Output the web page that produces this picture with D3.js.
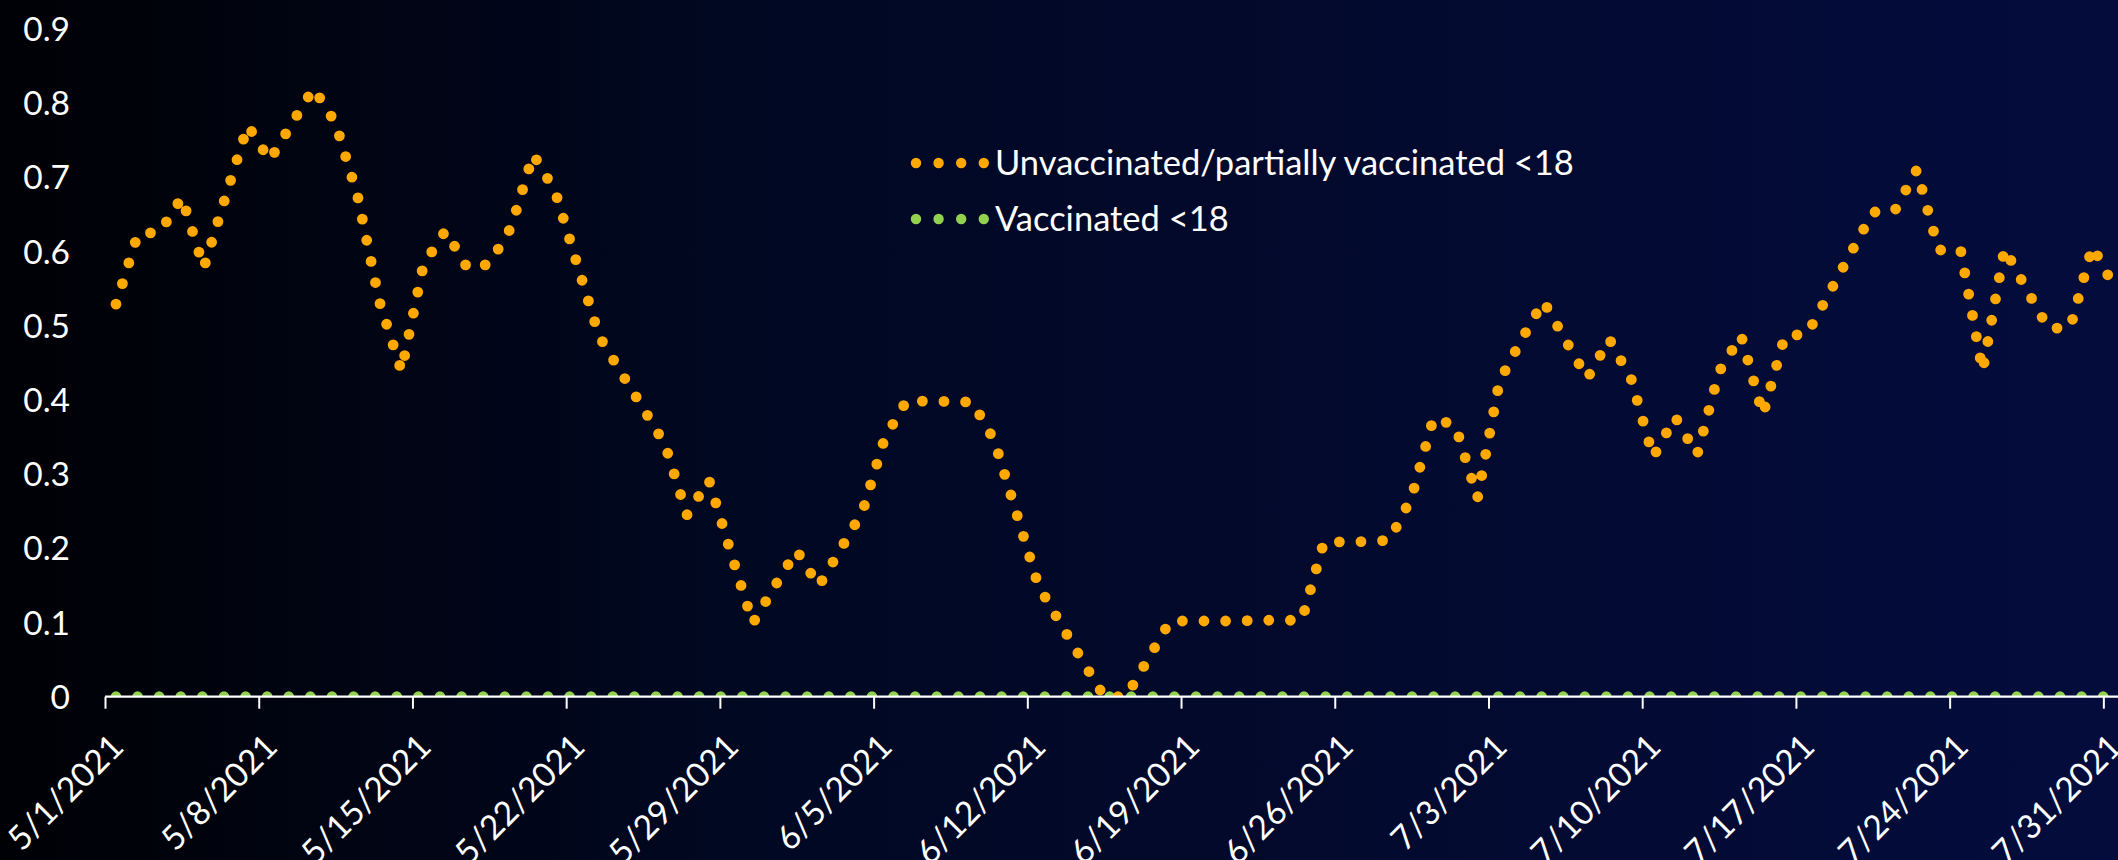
<!DOCTYPE html>
<html>
<head>
<meta charset="utf-8">
<script src="https://cdn.jsdelivr.net/npm/d3@7"></script>
<style>
  html, body { margin: 0; padding: 0; background: #000; }
  svg { display: block; }
  text { font-family: Lato, "Open Sans", sans-serif; fill: #ffffff; }
</style>
</head>
<body>
<svg id="chart" width="2118" height="860"></svg>
<script>
// daily values, 5/1/2021 .. 7/31/2021
const startDate = "5/1/2021";
const unvaccinated = [
  0.529, 0.624, 0.626, 0.673, 0.578, 0.675, 0.770, 0.723, 0.772, 0.820,
  0.773, 0.675, 0.532, 0.439, 0.582, 0.628, 0.578, 0.583, 0.633, 0.731,
  0.681, 0.583, 0.486, 0.437, 0.389, 0.340, 0.245, 0.292, 0.194, 0.099,
  0.149, 0.197, 0.149, 0.199, 0.250, 0.348, 0.399, 0.398, 0.398, 0.397,
  0.345, 0.248, 0.150, 0.099, 0.049, 0.000, 0.000, 0.051, 0.102, 0.102,
  0.102, 0.102, 0.103, 0.103, 0.103, 0.208, 0.209, 0.209, 0.211, 0.269,
  0.376, 0.365, 0.268, 0.425, 0.481, 0.533, 0.481, 0.429, 0.482, 0.428,
  0.323, 0.377, 0.326, 0.438, 0.487, 0.380, 0.487, 0.488, 0.543, 0.598,
  0.653, 0.655, 0.710, 0.602, 0.602, 0.439, 0.604, 0.549, 0.496, 0.498,
  0.607, 0.552
];
const vaccinated = [
  0, 0, 0, 0, 0, 0, 0, 0, 0, 0, 0, 0, 0, 0, 0, 0, 0, 0, 0, 0, 0, 0, 0,
  0, 0, 0, 0, 0, 0, 0, 0, 0, 0, 0, 0, 0, 0, 0, 0, 0, 0, 0, 0, 0, 0, 0,
  0, 0, 0, 0, 0, 0, 0, 0, 0, 0, 0, 0, 0, 0, 0, 0, 0, 0, 0, 0, 0, 0, 0,
  0, 0, 0, 0, 0, 0, 0, 0, 0, 0, 0, 0, 0, 0, 0, 0, 0, 0, 0, 0, 0, 0, 0
];
const tickLabels = [
  "5/1/2021", "5/8/2021", "5/15/2021", "5/22/2021", "5/29/2021",
  "6/5/2021", "6/12/2021", "6/19/2021", "6/26/2021", "7/3/2021",
  "7/10/2021", "7/17/2021", "7/24/2021", "7/31/2021"
];
const yTicks = [0, 0.1, 0.2, 0.3, 0.4, 0.5, 0.6, 0.7, 0.8, 0.9];
const seriesNames = ["Unvaccinated/partially vaccinated <18", "Vaccinated <18"];
const seriesColors = ["#ffa800", "#92d050"];

const width = 2118, height = 860;
const svg = d3.select('#chart');

const parseDate = d3.timeParse("%m/%d/%Y");
const start = parseDate(startDate);
const days = d3.timeDay.range(start, d3.timeDay.offset(start, unvaccinated.length));

// background gradient, black on the left to navy on the right
const defs = svg.append('defs');
const grad = defs.append('linearGradient')
    .attr('id', 'bg')
    .attr('x1', '0%').attr('x2', '100%')
    .attr('y1', '0%').attr('y2', '0%');
grad.append('stop').attr('offset', '0%').attr('stop-color', '#000105');
grad.append('stop').attr('offset', '35%').attr('stop-color', '#010822');
grad.append('stop').attr('offset', '100%').attr('stop-color', '#040c3d');
svg.append('rect')
    .attr('width', width).attr('height', height)
    .attr('fill', 'url(#bg)');

// scales: one day is ~21.96px, points sit in the middle of each day
const x = d3.scaleTime()
    .domain([start, d3.timeDay.offset(start, unvaccinated.length)])
    .range([105, 105 + unvaccinated.length * 21.96]);
const y = d3.scaleLinear()
    .domain([0, 0.9])
    .range([696.7, 28.9]);

const midDay = d => d3.timeHour.offset(d, 12);

defs.append('clipPath').attr('id', 'plot')
    .append('rect')
    .attr('x', x.range()[0])
    .attr('y', 0)
    .attr('width', x.range()[1] - x.range()[0])
    .attr('height', y(0));

// y labels (no axis line)
svg.append('g')
    .selectAll('text')
    .data(yTicks)
    .enter()
    .append('text')
    .attr('x', 70)
    .attr('y', d => y(d))
    .attr('dy', '0.36em')
    .attr('text-anchor', 'end')
    .style('font-size', '33.5px')
    .text(d => d3.format('~g')(d));

// series as round-dot lines
const line = d3.line()
    .x((d, i) => x(midDay(days[i])))
    .y(d => y(d));

const series = [vaccinated, unvaccinated];
const colors = [seriesColors[1], seriesColors[0]];
svg.append('g')
    .attr('clip-path', 'url(#plot)')
    .selectAll('path')
    .data(series)
    .enter()
    .append('path')
    .attr('d', line)
    .attr('fill', 'none')
    .attr('stroke', (d, i) => colors[i])
    .attr('stroke-width', 10.8)
    .attr('stroke-linecap', 'round')
    .attr('stroke-linejoin', 'round')
    .attr('stroke-dasharray', '0 21.6');

// x axis
const tickDates = tickLabels.map(parseDate);
const xAxis = d3.axisBottom(x)
    .tickValues(tickDates)
    .tickSize(12)
    .tickSizeOuter(0)
    .tickFormat((d, i) => tickLabels[i]);

const gx = svg.append('g')
    .attr('transform', `translate(0,${y(0)})`)
    .call(xAxis);
gx.select('.domain')
    .attr('stroke', '#ffffff')
    .attr('stroke-width', 2.2)
    .attr('d', `M${x.range()[0]},0H${width}`);
gx.selectAll('.tick line')
    .attr('stroke', '#ffffff')
    .attr('stroke-width', 2);
gx.selectAll('.tick text')
    .attr('text-anchor', 'end')
    .attr('dy', null)
    .attr('y', null)
    .attr('transform', 'translate(20,52) rotate(-45)')
    .style('font-size', '33.5px')
    .style('font-family', 'Lato, "Open Sans", sans-serif')
    .attr('fill', '#ffffff');

// legend
const legend = svg.append('g');
seriesNames.forEach((name, i) => {
    const ly = 163 + i * 56;
    legend.append('line')
        .attr('x1', 916).attr('x2', 984)
        .attr('y1', ly).attr('y2', ly)
        .attr('stroke', seriesColors[i])
        .attr('stroke-width', 10.4)
        .attr('stroke-linecap', 'round')
        .attr('stroke-dasharray', '0 22.6');
    legend.append('text')
        .attr('x', 995)
        .attr('y', ly)
        .attr('dy', '0.36em')
        .style('font-size', '34.5px')
        .text(name);
});
</script>
</body>
</html>
